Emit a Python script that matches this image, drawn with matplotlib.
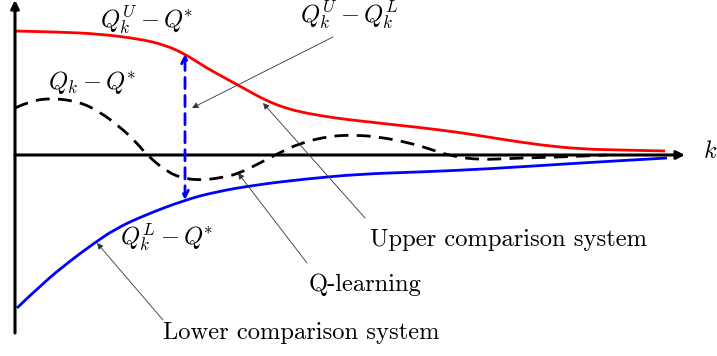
import matplotlib
matplotlib.use("Agg")
import matplotlib.pyplot as plt
from matplotlib.path import Path
from matplotlib.patches import PathPatch
import numpy as np

plt.rcParams['font.family'] = 'serif'
plt.rcParams['font.serif'] = ['cmr10']
plt.rcParams['mathtext.fontset'] = 'cm'
plt.rcParams['axes.unicode_minus'] = False

# Upper comparison system  Q_k^U - Q^*
upper_k = [0, 45, 85, 125, 150, 170, 190, 210, 230, 250, 270, 290, 320, 345,
           400, 442, 485, 525, 565, 605, 650]
upper_v = [124, 123, 121, 116, 110, 101, 88, 77, 66, 55, 47, 42, 37, 34,
           28, 23, 16, 10, 6, 5, 4]

# Lower comparison system  Q_k^L - Q^*
lower_k = [2, 28, 55, 78, 100, 130, 170, 200, 240, 290, 345, 405, 472, 565, 652]
lower_v = [-153, -128, -106, -89, -74, -60, -45, -37, -30, -24, -19, -17, -14, -8, -3]

# Q-learning  Q_k - Q^*
q_k = [0, 15, 38, 65, 85, 105, 120, 132, 152, 170, 190, 210, 225, 245, 260, 285,
       315, 340, 365, 395, 415, 432, 462, 505, 545, 592]
q_v = [47, 54, 57, 53, 43, 28, 14, 0, -17, -24, -25, -22, -18, -8, 0, 12,
       19, 20, 18, 12, 6, 0, -5, -3, -2, 0]

k_gap = 170


def smooth_path(xs, ys):
    pts = list(zip(xs, ys))
    verts = [pts[0]]
    codes = [Path.MOVETO]
    for i in range(1, len(pts) - 1):
        mid = ((pts[i][0] + pts[i + 1][0]) / 2, (pts[i][1] + pts[i + 1][1]) / 2)
        verts += [pts[i], mid]
        codes += [Path.CURVE3, Path.CURVE3]
    verts.append(pts[-1])
    codes.append(Path.LINETO)
    return Path(verts, codes)


fig = plt.figure(figsize=(7.17, 3.56), dpi=100)
ax = fig.add_axes([0, 0, 1, 1])
ax.set_xlim(-15, 702)
ax.set_ylim(-201, 155)
ax.axis('off')

# axes with arrows
ax.annotate('', xy=(0, 155), xytext=(0, -178),
            arrowprops=dict(arrowstyle='-|>', lw=2.2, color='k', mutation_scale=12,
                            shrinkA=0, shrinkB=0))
ax.annotate('', xy=(670, 0), xytext=(0, 0),
            arrowprops=dict(arrowstyle='-|>', lw=2.2, color='k', mutation_scale=12,
                            shrinkA=0, shrinkB=0))
ax.text(688, 3, '$k$', fontsize=17.5, ha='left', va='center')

ax.add_patch(PathPatch(smooth_path(upper_k, upper_v), fill=False, edgecolor='red',
                       lw=2.0, capstyle='butt'))
ax.add_patch(PathPatch(smooth_path(lower_k, lower_v), fill=False, edgecolor='blue',
                       lw=2.0, capstyle='butt'))
ax.add_patch(PathPatch(smooth_path(q_k, q_v), fill=False, edgecolor='black',
                       lw=2.0, linestyle=(0, (5, 3))))

yu = np.interp(k_gap, upper_k, upper_v)
yl = np.interp(k_gap, lower_k, lower_v)
ax.annotate('', xy=(k_gap, yu), xytext=(k_gap, yl),
            arrowprops=dict(arrowstyle='<->', lw=2.0, color='blue', linestyle=(0, (4, 2.5)),
                            mutation_scale=12, shrinkA=0, shrinkB=0))

fs = 17.7
ax.text(132, 135, r'$Q_k^U - Q^{\!\!*}$', fontsize=fs, ha='center', va='center')
ax.text(77, 73, r'$Q_k - Q^{\!\!*}$', fontsize=fs, ha='center', va='center')
ax.text(152, -82, r'$Q_k^L - Q^{\!\!*}$', fontsize=fs, ha='center', va='center')

ap = dict(arrowstyle='-|>', lw=0.6, color='#333333', mutation_scale=9, shrinkA=0, shrinkB=0)
ax.text(335, 140, r'$Q_k^U - Q_k^L$', fontsize=fs, ha='center', va='center')
ax.annotate('', xy=(177, 47), xytext=(318, 118), arrowprops=ap)

ax.text(494, -85, 'Upper comparison system', fontsize=fs, ha='center', va='center')
ax.annotate('', xy=(248, 52), xytext=(350, -63), arrowprops=ap)

ax.text(350, -130, 'Q-learning', fontsize=fs, ha='center', va='center')
ax.annotate('', xy=(223, -18), xytext=(292, -108), arrowprops=ap)

ax.text(286, -178, 'Lower comparison system', fontsize=fs, ha='center', va='center')
ax.annotate('', xy=(82, -88), xytext=(148, -165), arrowprops=ap)

fig.savefig('out.png', dpi=100)
